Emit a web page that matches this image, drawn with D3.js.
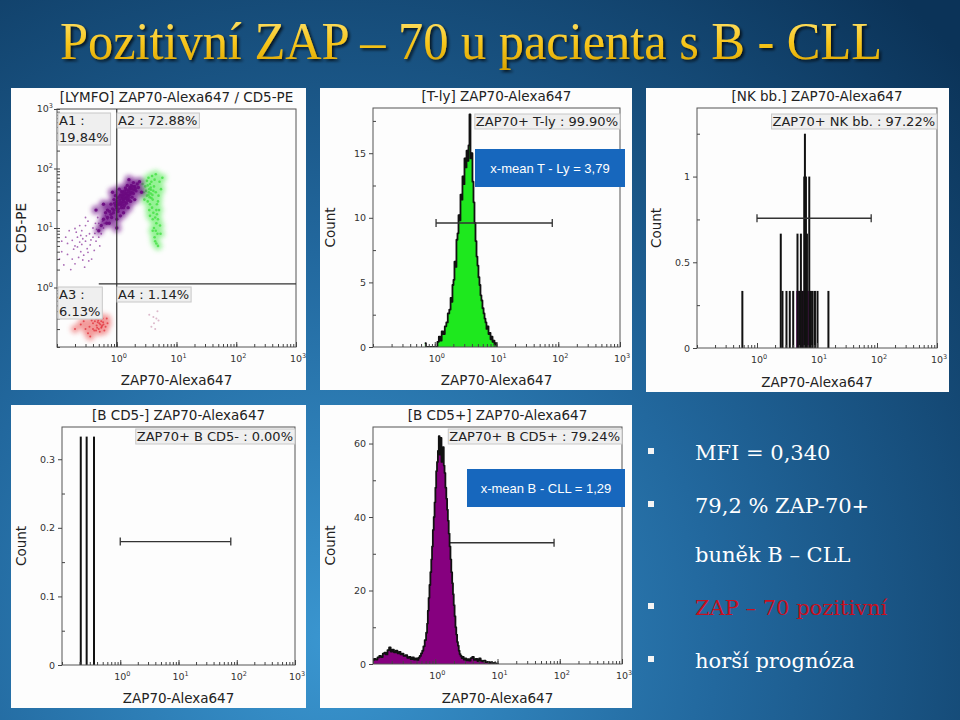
<!DOCTYPE html>
<html>
<head>
<meta charset="utf-8">
<script src="https://cdn.jsdelivr.net/npm/d3@7"></script>
<style>
  body { margin: 0; background: #0b3558; }
  svg { display: block; }
</style>
</head>
<body>
<script>
// ---- slide text ----
var slideTitle = "Pozitivní ZAP – 70 u pacienta s B - CLL";
var bulletLines = [
  {text: "MFI = 0,340", mark: true, red: false},
  {text: "79,2 % ZAP-70+", mark: true, red: false},
  {text: "buněk B – CLL", mark: false, red: false},
  {text: "ZAP – 70 pozitivní", mark: true, red: true},
  {text: "horší prognóza", mark: true, red: false}
];

// ---- panel titles / labels ----
var panelTitles = ["[LYMFO] ZAP70-Alexa647 / CD5-PE", "[T-ly] ZAP70-Alexa647", "[NK bb.] ZAP70-Alexa647",
                   "[B CD5-] ZAP70-Alexa647", "[B CD5+] ZAP70-Alexa647"];
var statLabels = ["", "ZAP70+ T-ly : 99.90%", "ZAP70+ NK bb. : 97.22%", "ZAP70+ B CD5- : 0.00%", "ZAP70+ B CD5+ : 79.24%"];
var quadLabels = [["A1 :", "19.84%"], ["A2 : 72.88%"], ["A3 :", "6.13%"], ["A4 : 1.14%"]];
var meanLabels = ["x-mean T - Ly = 3,79", "x-mean B - CLL = 1,29"];

// axis ticks
var decades = [1, 10, 100, 1000];
var countTicks = [null, [0, 5, 10, 15], [0, 0.5, 1], [0, 0.1, 0.2, 0.3], [0, 20, 40, 60]];
var countMinor = [null, [2.5, 7.5, 12.5, 17.5], [0.25, 0.75, 1.25], [0.05, 0.15, 0.25], [10, 30, 50]];
var countMax = [null, 18.5, 1.4, 0.347, 64.5];

// ---- scatter (ZAP70 value, CD5 value) ----
var cd5DimPts = [[0.2,5],[0.25,4],[0.3,6],[0.18,3],[0.35,8],[0.22,7],[0.28,3.5],[0.15,5.5],[0.4,10],[0.32,4.5],
  [0.12,4],[0.26,9],[0.45,6],[0.5,12],[0.2,2.5],[0.38,3],[0.14,7],[0.3,11],[0.55,8],[0.24,5.8],[0.42,4.2],
  [0.17,2],[0.6,10],[0.33,13],[0.11,3],[0.48,15],[0.21,8.5],[0.36,5.2],[0.29,2.2],[0.52,5],[0.16,9],[0.23,3.2],
  [0.4,7],[0.27,6.6],[0.19,4.4],[0.34,2.8],[0.13,2.4],[0.46,9.5],[0.58,13],[0.3,15],[0.24,11],[0.65,16],
  [0.22,4.8],[0.26,5.3],[0.18,6.2],[0.31,7.4],[0.37,6.3],[0.15,3.6],[0.43,8.1],[0.27,2.9],[0.2,9.8],[0.33,3.9],
  [0.12,6],[0.5,7],[0.62,12],[0.7,14],[0.44,12],[0.25,7.5]];
var bCllPts = [[1.3,30],[1.1,25],[1.5,35],[0.9,20],[1.7,40],[1.2,22],[1.4,38],[1.0,28],[1.6,30],[0.8,17],
  [2.0,50],[1.8,45],[0.7,15],[1.25,33],[1.05,19],[1.45,26],[0.95,24],[1.65,48],[2.2,55],[0.6,14],[1.35,42],
  [1.15,36],[0.85,21],[1.55,22],[1.9,38],[0.75,12],[2.4,60],[1.1,45],[0.65,18],[1.7,28],[1.3,18],[0.9,30],
  [2.1,42],[1.5,52],[1.0,14],[1.2,27],[1.4,31],[1.6,36],[0.8,25],[1.8,33],[0.55,11],[2.3,48],[1.35,24],
  [1.05,32],[1.25,40],[0.7,20],[1.9,58],[1.15,16],[1.75,52],[0.95,35],[0.45,20],[2.6,40],[0.5,9],[1.6,65],
  [0.6,25],[2.0,30],[1.0,10],[0.85,40],[1.28,28],[1.42,33],[1.12,29],[1.55,41],[1.22,36],[0.98,22],[1.62,44],
  [1.38,27],[1.18,24],[1.48,38],[1.08,26],[1.32,35],[1.72,46],[0.88,18],[1.95,44],[1.27,31],[1.52,29],
  [1.33,37],[1.45,44],[1.02,24],[1.18,31],[1.58,33],[1.25,25],[0.92,26],[1.68,37],[1.85,50],[1.4,47],
  [1.07,21],[0.82,15],[0.76,19],[2.05,46],[1.2,41],[1.5,31],[1.3,22],[0.68,12],[1.12,34],[1.82,40]];
var tLyPts = [[3.5,45],[3.8,60],[3.2,35],[4.0,30],[3.6,25],[4.2,50],[3.4,70],[3.0,50],[4.5,40],[3.7,38],
  [3.3,28],[3.9,22],[4.1,18],[4.4,15],[4.6,12],[4.2,10],[4.8,8],[4.0,14],[3.6,55],[3.1,42],[4.3,65],[3.8,32],
  [3.5,20],[4.7,25],[5.0,35],[2.8,40],[4.5,80],[3.9,75],[4.4,6],[4.9,5],[3.7,48],[4.1,42],[3.4,36],[4.6,20],
  [5.2,60],[2.9,30],[3.2,62],[4.0,9],[4.3,7],[3.6,16],[3.45,40],[3.75,44],[3.3,52],[3.95,36],[3.55,33],
  [4.9,14],[5.3,11],[4.5,9],[5.1,20],[4.7,17],[5.5,45],[5.8,70],[2.7,55],[4.9,28],[5.4,8],[4.6,5.5]];
var cd5NegPts = [[0.46,0.23],[0.4,0.25],[0.5,0.2],[0.55,0.27],[0.35,0.22],[0.6,0.24],[0.3,0.2],[0.45,0.3],
  [0.52,0.18],[0.42,0.19],[0.65,0.22],[0.25,0.24],[0.38,0.28],[0.58,0.3],[0.48,0.26],[0.2,0.2],[0.33,0.17],
  [0.62,0.19],[0.7,0.25],[0.44,0.35],[0.28,0.27],[0.55,0.21],[0.5,0.33],[0.36,0.15],[0.68,0.3],[0.47,0.21],
  [0.53,0.24],[0.43,0.27],[0.57,0.23],[0.4,0.2],[0.51,0.25],[0.56,0.22],[0.49,0.28],[0.59,0.26],[0.45,0.19]];
var zapPosNegPts = [[4.2,0.25],[4.6,0.3],[3.8,0.22],[5.0,0.28],[4.4,0.2],[3.5,0.35],[4.8,0.4],[4.1,0.32]];

// ---- histograms (ZAP70 value, count) ----
var tLyHist = [[0.69,0.3],[0.75,0],[1.08,0],[1.13,0.4],[1.2,0.8],[1.26,0.5],[1.33,1.2],[1.41,1.0],[1.5,1.6],
  [1.58,1.9],[1.67,2.6],[1.77,2.9],[1.84,3.8],[1.9,3.5],[1.97,4.8],[2.05,5.2],[2.12,6.6],[2.2,6.2],[2.29,8.3],
  [2.38,8.8],[2.47,10.2],[2.56,9.8],[2.66,11.8],[2.76,11.4],[2.86,13.2],[2.97,12.6],[3.09,14.6],[3.21,13.9],
  [3.33,15.2],[3.45,14.4],[3.58,15.6],[3.72,18],[3.86,14.6],[4.0,15.0],[4.16,12.8],[4.32,11.2],[4.48,9.6],
  [4.66,8.2],[4.83,7.0],[5.0,6.3],[5.2,5.4],[5.4,4.8],[5.6,4.0],[5.8,3.6],[6.05,3.0],[6.3,2.6],[6.5,2.2],
  [6.76,1.9],[7.0,1.4],[7.3,1.6],[7.55,1.0],[7.85,1.1],[8.15,0.6],[8.45,0.8],[8.8,0.4],[9.1,0.5],[9.45,0.2],
  [9.8,0.3],[10.2,0]];
var nkBars = [[0.57,0.333],[2.49,0.667],[2.66,0.333],[3.10,0.333],[3.52,0.333],[4.01,0.333],[4.73,0.667],
  [5.05,0.333],[5.39,0.667],[5.74,0.333],[6.13,1.0],[6.29,1.25],[6.54,1.0],[6.80,0.667],[7.43,1.0],[7.93,0.333],
  [8.46,0.333],[9.25,0.333],[10.2,0.333],[15.5,0.333]];
var nkFill = [[4.5,0.333],[7.8,0.333]];
var bNegBars = [[0.21,0.333],[0.265,0.333],[0.354,0.333]];
var bCllHist = [[0.1,1],[0.107,1.4],[0.114,1.2],[0.122,1.8],[0.13,2.2],[0.139,1.9],[0.148,2.8],[0.156,3.1],
  [0.166,2.6],[0.176,3.8],[0.187,4.5],[0.198,3.4],[0.21,3.9],[0.224,3.2],[0.24,3.6],[0.255,2.9],[0.27,3.3],
  [0.285,2.6],[0.30,2.8],[0.32,2.2],[0.345,2.4],[0.365,1.7],[0.39,1.9],[0.415,1.3],[0.44,1.8],[0.47,1.2],
  [0.5,1.5],[0.525,1.1],[0.55,1.7],[0.575,2.2],[0.605,2.9],[0.63,3.6],[0.66,4.8],[0.695,6.5],[0.73,8.5],
  [0.75,11],[0.77,14.5],[0.795,18],[0.82,21.5],[0.85,25],[0.877,28.5],[0.9,32],[0.93,36.5],[0.96,40],[0.99,44],
  [1.02,48],[1.05,52.5],[1.085,55],[1.12,58],[1.16,62],[1.19,57],[1.22,60.5],[1.24,61.5],[1.28,55],[1.31,58],
  [1.35,59],[1.39,54],[1.43,52],[1.48,48],[1.53,45],[1.57,42],[1.62,39],[1.67,35.5],[1.73,32],[1.78,28.5],
  [1.84,25],[1.9,22],[1.95,19],[2.01,16],[2.08,13],[2.14,10],[2.21,8],[2.28,6],[2.35,5],[2.42,3.6],[2.5,2.7],
  [2.6,2.2],[2.7,1.6],[2.79,1.9],[2.95,1.2],[3.1,1.5],[3.2,1.0],[3.4,1.3],[3.6,0.9],[3.8,1.6],[4.04,1.9],
  [4.3,1.1],[4.6,1.4],[4.9,0.8],[5.24,1.5],[5.5,0.9],[5.85,0.7],[6.2,0.9],[6.7,0.5],[7.1,0.6],[7.6,0.3],
  [8.0,0.5],[8.5,0.2],[9.0,0.3],[9.7,0.1],[10.5,0]];

// gates: [from, to, count]
var gates = [null, [1.05, 80, 9.6], [1.0, 80, 0.757], [1.0, 79, 0.18], [1.0, 81, 33]];

var W = 960, H = 720;
var fontSans = "'DejaVu Sans', Verdana, sans-serif";

var svg = d3.select("body").append("svg").attr("width", W).attr("height", H);
var defs = svg.append("defs");

// background
var bg = defs.append("radialGradient").attr("id", "bg").attr("gradientUnits", "userSpaceOnUse")
    .attr("cx", 330).attr("cy", 640).attr("r", 860);
bg.append("stop").attr("offset", 0).attr("stop-color", "#3a96d0");
bg.append("stop").attr("offset", 0.45).attr("stop-color", "#22689e");
bg.append("stop").attr("offset", 1).attr("stop-color", "#0b3358");
svg.append("rect").attr("width", W).attr("height", H).attr("fill", "url(#bg)");

// title
var tg = defs.append("linearGradient").attr("id", "gold").attr("x1", 0).attr("y1", 0).attr("x2", 0).attr("y2", 1);
tg.append("stop").attr("offset", 0).attr("stop-color", "#ffe67a");
tg.append("stop").attr("offset", 0.55).attr("stop-color", "#f7c51a");
tg.append("stop").attr("offset", 1).attr("stop-color", "#d9a200");
var sh = defs.append("filter").attr("id", "shadow").attr("x", "-5%").attr("y", "-20%").attr("width", "110%").attr("height", "150%");
sh.append("feDropShadow").attr("dx", 2).attr("dy", 2).attr("stdDeviation", 1.5)
  .attr("flood-color", "#000").attr("flood-opacity", 0.75);
var blur = defs.append("filter").attr("id", "soft").attr("x", "-50%").attr("y", "-50%").attr("width", "200%").attr("height", "200%");
blur.append("feGaussianBlur").attr("stdDeviation", 2.5);

svg.append("text")
    .attr("x", 60).attr("y", 59)
    .attr("textLength", 822).attr("lengthAdjust", "spacingAndGlyphs")
    .attr("font-family", "'Liberation Serif', 'DejaVu Serif', serif")
    .attr("font-size", 53)
    .attr("fill", "url(#gold)")
    .attr("filter", "url(#shadow)")
    .text(slideTitle);

// ---- panel layout ----
var panels = [
  {box: [11, 88, 306, 390],  plot: [57, 109, 296, 347], ylab: "CD5-PE"},
  {box: [320, 88, 632, 390], plot: [373, 108, 620, 347], ylab: "Count"},
  {box: [646, 88, 949, 392], plot: [697, 108, 937, 348], ylab: "Count"},
  {box: [11, 405, 306, 708], plot: [62, 427, 295, 665], ylab: "Count"},
  {box: [320, 405, 632, 708], plot: [373, 427, 622, 664], ylab: "Count"}
];

function powLabel(sel, v) {
  sel.text("10").append("tspan").attr("dy", -4).attr("font-size", 6.5)
     .text(Math.round(Math.log10(v)));
}

function drawPanel(i) {
  var p = panels[i];
  var g = svg.append("g");
  g.append("rect")
      .attr("x", p.box[0]).attr("y", p.box[1])
      .attr("width", p.box[2] - p.box[0]).attr("height", p.box[3] - p.box[1])
      .attr("fill", "#fdfdfd");

  var x = d3.scaleLog().domain([0.1, 1000]).range([p.plot[0], p.plot[2]]);
  var y = (i === 0)
      ? d3.scaleLog().domain([0.1, 1000]).range([p.plot[3], p.plot[1]])
      : d3.scaleLinear().domain([0, countMax[i]]).range([p.plot[3], p.plot[1]]);

  var clipId = "clip" + i;
  defs.append("clipPath").attr("id", clipId).append("rect")
      .attr("x", p.plot[0]).attr("y", p.plot[1] - 2)
      .attr("width", p.plot[2] - p.plot[0]).attr("height", p.plot[3] - p.plot[1] + 2);
  var plotG = g.append("g").attr("clip-path", "url(#" + clipId + ")");

  // frame
  g.append("rect")
      .attr("x", p.plot[0]).attr("y", p.plot[1])
      .attr("width", p.plot[2] - p.plot[0]).attr("height", p.plot[3] - p.plot[1])
      .attr("fill", "none").attr("stroke", "#555").attr("stroke-width", 1);

  // x axis: minor ticks + major ticks pointing inward
  var xa = g.append("g").attr("transform", "translate(0," + p.plot[3] + ")");
  xa.call(d3.axisBottom(x).tickValues(x.ticks()).tickSize(-3).tickFormat(""));
  xa.append("g").call(d3.axisBottom(x).tickValues(decades).tickSize(-5).tickFormat(""));
  xa.selectAll(".domain").remove();
  xa.selectAll("line").attr("stroke", "#444");
  g.selectAll(null).data(decades).enter().append("text")
      .attr("x", function(d) { return x(d) + 2; })
      .attr("y", p.plot[3] + 15)
      .attr("text-anchor", "middle")
      .attr("font-family", fontSans).attr("font-size", 9.5).attr("fill", "#333")
      .each(function(d) { powLabel(d3.select(this), d); });

  // y axis
  var ya = g.append("g").attr("transform", "translate(" + p.plot[0] + ",0)");
  if (i === 0) {
    ya.call(d3.axisLeft(y).tickValues(y.ticks()).tickSize(-3).tickFormat(""));
    ya.append("g").call(d3.axisLeft(y).tickValues(decades).tickSize(3).tickFormat(""));
    g.selectAll(null).data(decades).enter().append("text")
        .attr("x", p.plot[0] - 4)
        .attr("y", function(d) { return y(d) + 3; })
        .attr("text-anchor", "end")
        .attr("font-family", fontSans).attr("font-size", 9.5).attr("fill", "#333")
        .each(function(d) { powLabel(d3.select(this), d); });
  } else {
    ya.call(d3.axisLeft(y).tickValues(countMinor[i]).tickSize(-3).tickFormat(""));
    ya.append("g").call(d3.axisLeft(y).tickValues(countTicks[i]).tickSize(4).tickPadding(3)
        .tickFormat(d3.format("~g")));
  }
  ya.selectAll(".domain").remove();
  ya.selectAll("line").attr("stroke", "#444");
  ya.selectAll("text").attr("font-family", fontSans).attr("font-size", 9.5).attr("fill", "#333");

  // titles
  var cx = (p.plot[0] + p.plot[2]) / 2;
  g.append("text").attr("x", cx).attr("y", p.plot[1] - 7)
      .attr("text-anchor", "middle").attr("font-family", fontSans).attr("font-size", 13.5)
      .attr("fill", "#222").text(panelTitles[i]);
  g.append("text").attr("x", cx).attr("y", p.box[3] - 5)
      .attr("text-anchor", "middle").attr("font-family", fontSans).attr("font-size", 13.5)
      .attr("fill", "#222").text("ZAP70-Alexa647");
  g.append("text")
      .attr("transform", "translate(" + (p.box[0] + 10) + "," + ((p.plot[1] + p.plot[3]) / 2) + ") rotate(-90)")
      .attr("dy", "0.35em")
      .attr("text-anchor", "middle").attr("font-family", fontSans).attr("font-size", 13.5)
      .attr("fill", "#222").text(p.ylab);

  return {g: g, plotG: plotG, x: x, y: y, p: p};
}

function labelBox(g, x, y, lines, anchor) {
  var lg = g.append("g");
  var rect = lg.append("rect").attr("fill", "#efefef").attr("stroke", "#c8c8c8").attr("stroke-width", 1);
  var t = lg.append("text").attr("font-family", fontSans).attr("font-size", 13).attr("fill", "#222")
      .attr("text-anchor", anchor || "start");
  lines.forEach(function(s, k) {
    t.append("tspan").attr("x", x).attr("y", y + k * 17).text(s);
  });
  var bb = t.node().getBBox();
  rect.attr("x", bb.x - 1).attr("y", bb.y).attr("width", bb.width + 3).attr("height", bb.height);
}

function drawGate(P, target, gate) {
  var gy = P.y(gate[2]);
  var gg = target.append("g").attr("stroke", "#333").attr("stroke-width", 1.3);
  gg.append("line").attr("x1", P.x(gate[0])).attr("x2", P.x(gate[1])).attr("y1", gy).attr("y2", gy);
  gg.append("line").attr("x1", P.x(gate[0])).attr("x2", P.x(gate[0])).attr("y1", gy - 4).attr("y2", gy + 4);
  gg.append("line").attr("x1", P.x(gate[1])).attr("x2", P.x(gate[1])).attr("y1", gy - 4).attr("y2", gy + 4);
}

function drawHist(P, data, fill) {
  var area = d3.area().x(function(d) { return P.x(d[0]); })
      .y0(P.y(0)).y1(function(d) { return P.y(d[1]); }).curve(d3.curveStep);
  var line = d3.line().x(function(d) { return P.x(d[0]); })
      .y(function(d) { return P.y(d[1]); }).curve(d3.curveStep);
  P.plotG.append("path").datum(data).attr("d", area).attr("fill", fill);
  P.plotG.append("path").datum(data).attr("d", line).attr("fill", "none")
      .attr("stroke", "#111").attr("stroke-width", 1.8).attr("stroke-linejoin", "round");
}

function drawSpikes(P, data) {
  P.plotG.selectAll(null).data(data).enter().append("line")
      .attr("x1", function(d) { return P.x(d[0]); }).attr("x2", function(d) { return P.x(d[0]); })
      .attr("y1", P.y(0)).attr("y2", function(d) { return P.y(d[1]); })
      .attr("stroke", "#111").attr("stroke-width", 2);
}

function meanBox(x0, y0, x1, y1, s) {
  svg.append("rect").attr("x", x0).attr("y", y0).attr("width", x1 - x0).attr("height", y1 - y0)
      .attr("fill", "#1767bd");
  svg.append("text").attr("x", (x0 + x1) / 2).attr("y", (y0 + y1) / 2 + 4.5)
      .attr("text-anchor", "middle").attr("font-family", "'Liberation Sans', Arial, sans-serif")
      .attr("font-size", 13).attr("fill", "#fff").text(s);
}

// ---- panel 1: dot plot ----
var P1 = drawPanel(0);
var scatterSets = [
  {pts: cd5DimPts, color: "#8e3a9e", r: 0.9, op: 0.75, glow: null},
  {pts: cd5NegPts, color: "#e2343f", r: 1.0, op: 0.8, glow: "#f08080"},
  {pts: zapPosNegPts, color: "#cf9bb5", r: 1.0, op: 0.7, glow: null},
  {pts: tLyPts, color: "#44e044", r: 1.3, op: 0.8, glow: "#7cf07c"},
  {pts: bCllPts, color: "#6a0a80", r: 1.7, op: 0.9, glow: "#6e1088"}
];
scatterSets.forEach(function(s) {
  if (s.glow) {
    P1.plotG.append("g").attr("filter", "url(#soft)").attr("opacity", 0.8)
      .selectAll(null).data(s.pts).enter().append("circle")
      .attr("cx", function(d) { return P1.x(d[0]); })
      .attr("cy", function(d) { return P1.y(d[1]); })
      .attr("r", 4).attr("fill", s.glow);
  }
  P1.plotG.selectAll(null).data(s.pts).enter().append("circle")
      .attr("cx", function(d) { return P1.x(d[0]); })
      .attr("cy", function(d) { return P1.y(d[1]); })
      .attr("r", s.r).attr("fill", s.color).attr("fill-opacity", s.op);
});
// quadrant gate
P1.g.append("line").attr("x1", P1.x(1)).attr("x2", P1.x(1)).attr("y1", P1.y(1000)).attr("y2", P1.y(0.1))
    .attr("stroke", "#333").attr("stroke-width", 1.2);
P1.g.append("line").attr("x1", P1.x(0.5)).attr("x2", P1.x(1000)).attr("y1", P1.y(1.15)).attr("y2", P1.y(1.15))
    .attr("stroke", "#333").attr("stroke-width", 1.2);
labelBox(P1.g, 59, 125, quadLabels[0]);
labelBox(P1.g, 118, 125, quadLabels[1]);
labelBox(P1.g, 59, 299, quadLabels[2]);
labelBox(P1.g, 118, 299, quadLabels[3]);

// ---- panel 2: T-ly histogram ----
var P2 = drawPanel(1);
drawHist(P2, tLyHist, "#1ee81e");
drawGate(P2, P2.g, gates[1]);
labelBox(P2.g, P2.p.plot[2] - 2, P2.p.plot[1] + 18, [statLabels[1]], "end");

// ---- panel 3: NK histogram ----
var P3 = drawPanel(2);
P3.plotG.append("path").datum(nkFill)
    .attr("d", d3.area().x(function(d) { return P3.x(d[0]); }).y0(P3.y(0)).y1(function(d) { return P3.y(d[1]); }))
    .attr("fill", "#8a1a8f");
drawSpikes(P3, nkBars);
drawGate(P3, P3.g, gates[2]);
labelBox(P3.g, P3.p.plot[2] - 2, P3.p.plot[1] + 18, [statLabels[2]], "end");

// ---- panel 4: B CD5- ----
var P4 = drawPanel(3);
drawSpikes(P4, bNegBars);
drawGate(P4, P4.g, gates[3]);
labelBox(P4.g, P4.p.plot[2] - 2, P4.p.plot[1] + 14, [statLabels[3]], "end");

// ---- panel 5: B CD5+ (gate sits behind the histogram) ----
var P5 = drawPanel(4);
drawGate(P5, P5.plotG, gates[4]);
drawHist(P5, bCllHist, "#86007f");
labelBox(P5.g, P5.p.plot[2] - 2, P5.p.plot[1] + 14, [statLabels[4]], "end");

// mean annotations
meanBox(475, 149, 625, 187, meanLabels[0]);
meanBox(467, 469, 625, 507, meanLabels[1]);

// ---- bullets ----
var bulletY = [460, 513, 562, 615, 668];
var bl = svg.append("g");
bulletLines.forEach(function(b, k) {
  if (b.mark) {
    bl.append("rect").attr("x", 648).attr("y", bulletY[k] - 12).attr("width", 6).attr("height", 6).attr("fill", "#f4f4f4");
  }
  bl.append("text").attr("x", 695).attr("y", bulletY[k])
      .attr("font-family", "'DejaVu Serif', 'Liberation Serif', serif").attr("font-size", 21)
      .attr("fill", b.red ? "#c8101e" : "#ffffff").text(b.text);
});
</script>
</body>
</html>
